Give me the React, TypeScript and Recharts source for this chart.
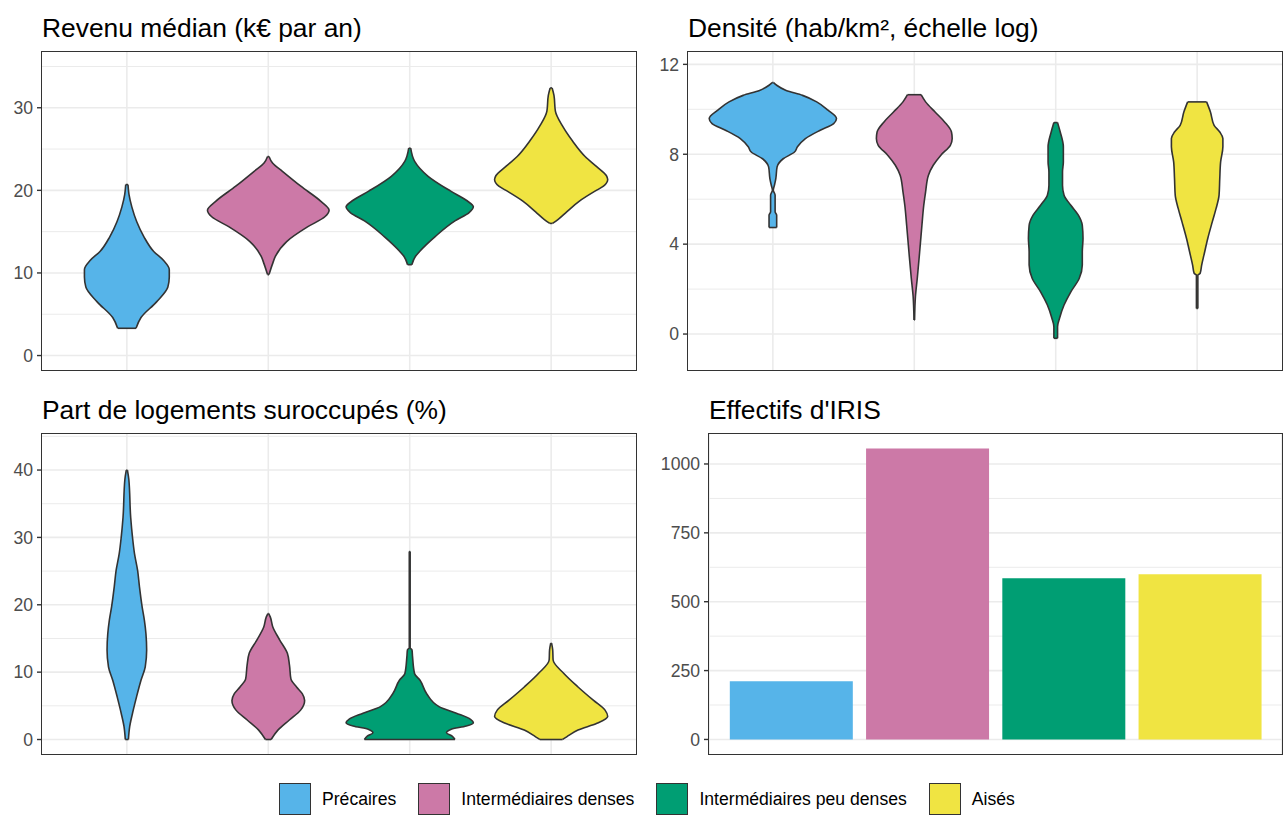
import { ComposedChart, Area, Bar, Cell, XAxis, YAxis, CartesianGrid, ReferenceLine } from "recharts";

const FONT = '"Liberation Sans", Arial, Helvetica, sans-serif';
const GROUPS = ["Précaires", "Intermédiaires denses", "Intermédiaires peu denses", "Aisés"];
const COLORS = ["#56B4E9", "#CC79A7", "#009E73", "#F0E442"];
const OUTLINE = "#333333";
const GRID = "#EBEBEB";

// profils des violons : [valeur, demi-largeur en unités de catégorie]
type Profile = [number, number][];

const REVENU_PRECAIRES: Profile = [
  [3.3, 0.065], [4.6, 0.1], [6.5, 0.21], [8.3, 0.29], [9.5, 0.3], [10.4, 0.3], [11.5, 0.26],
  [12.6, 0.19], [14.4, 0.12], [16.2, 0.07], [18.0, 0.035], [19.5, 0.015], [20.7, 0.008],
];
const REVENU_DENSES: Profile = [
  [9.8, 0.005], [11.1, 0.03], [12.0, 0.05], [13.8, 0.13], [15.6, 0.28], [16.8, 0.4], [17.6, 0.43],
  [18.7, 0.37], [20.5, 0.23], [22.3, 0.1], [23.3, 0.03], [24.1, 0.005],
];
const REVENU_PEU_DENSES: Profile = [
  [11.0, 0.015], [12.0, 0.04], [12.6, 0.07], [14.4, 0.18], [16.3, 0.32], [17.3, 0.42], [18.0, 0.45],
  [18.8, 0.4], [19.9, 0.29], [21.7, 0.13], [23.5, 0.035], [25.1, 0.007],
];
const REVENU_AISES: Profile = [
  [16.0, 0.01], [16.5, 0.05], [17.4, 0.11], [18.7, 0.2], [19.9, 0.31], [20.5, 0.37], [21.3, 0.4],
  [21.8, 0.39], [22.9, 0.32], [24.1, 0.24], [26.0, 0.15], [27.8, 0.08], [29.6, 0.03], [31.5, 0.02],
  [32.4, 0.007],
];

const DENSITE_PRECAIRES: Profile = [
  [4.74, 0.027], [5.29, 0.027], [5.44, 0.016], [6.18, 0.016], [6.4, 0.003], [6.62, 0.011],
  [6.92, 0.021], [7.44, 0.03], [7.8, 0.073], [8.1, 0.153], [8.33, 0.174], [8.7, 0.23], [9.07, 0.335],
  [9.36, 0.43], [9.59, 0.45], [9.96, 0.39], [10.33, 0.31], [10.62, 0.21], [10.84, 0.094],
  [11.07, 0.027], [11.19, 0.005],
];
const DENSITE_DENSES: Profile = [
  [0.62, 0.002], [1.66, 0.008], [2.47, 0.021], [3.66, 0.038], [4.84, 0.054], [5.73, 0.067],
  [6.33, 0.08], [7.07, 0.1], [7.51, 0.134], [7.96, 0.188], [8.4, 0.255], [8.7, 0.268], [8.99, 0.263],
  [9.44, 0.214], [9.88, 0.147], [10.33, 0.08], [10.65, 0.048],
];
const DENSITE_PEU_DENSES: Profile = [
  [-0.19, 0.013], [0.33, 0.013], [0.7, 0.027], [1.29, 0.059], [1.88, 0.107], [2.47, 0.166],
  [3.07, 0.188], [3.66, 0.188], [4.25, 0.193], [4.84, 0.188], [5.29, 0.16], [5.73, 0.107],
  [6.18, 0.059], [6.62, 0.048], [7.21, 0.048], [7.66, 0.054], [8.33, 0.054], [8.99, 0.032],
  [9.41, 0.013],
];
const DENSITE_AISES: Profile = [
  [1.14, 0.005], [2.62, 0.005], [2.7, 0.021], [3.07, 0.032], [3.51, 0.048], [4.25, 0.075],
  [4.99, 0.107], [5.59, 0.134], [6.18, 0.155], [6.92, 0.16], [7.66, 0.166], [8.33, 0.182],
  [8.7, 0.182], [8.99, 0.16], [9.29, 0.12], [9.88, 0.094], [10.33, 0.067],
];

const SUROCC_PRECAIRES: Profile = [
  [0, 0.011], [1.9, 0.02], [3.9, 0.04], [6.3, 0.068], [8.8, 0.1], [10.8, 0.13], [13.3, 0.14],
  [15.7, 0.135], [17.7, 0.124], [19.7, 0.108], [22.7, 0.089], [25.1, 0.076], [27.6, 0.054],
  [30, 0.04], [33, 0.027], [38.6, 0.014], [40, 0.004],
];
const SUROCC_DENSES: Profile = [
  [0, 0.02], [1.4, 0.068], [2.9, 0.149], [4.4, 0.23], [5.8, 0.257], [6.8, 0.24], [7.8, 0.2],
  [9, 0.16], [11, 0.15], [12.8, 0.135], [14.8, 0.08], [16.7, 0.032], [18.2, 0.014], [18.7, 0.003],
];
const SUROCC_PEU_DENSES: Profile = [
  [0, 0.32], [0.5, 0.3], [1.0, 0.26], [1.5, 0.29], [2.0, 0.4], [2.5, 0.45], [3.0, 0.43],
  [3.9, 0.33], [4.85, 0.21], [6.8, 0.12], [8.8, 0.073], [9.8, 0.034], [12.3, 0.02], [13.3, 0.016],
  [13.6, 0.003], [27.9, 0.003],
];
const SUROCC_AISES: Profile = [
  [0, 0.08], [0.4, 0.11], [1.4, 0.19], [2.4, 0.324], [3.4, 0.4], [4.4, 0.38], [5.8, 0.3],
  [7.8, 0.19], [9.8, 0.09], [11.8, 0.014], [13.3, 0.011], [14.3, 0.003],
];

const REVENU_TICKS = [0, 10, 20, 30];
const REVENU_MINOR = [5, 15, 25, 35];
const DENSITE_TICKS = [0, 4, 8, 12];
const DENSITE_MINOR = [2, 6, 10];
const SUROCC_TICKS = [0, 10, 20, 30, 40];
const SUROCC_MINOR = [5, 15, 25, 35, 45];

const EFFECTIFS = [211, 1056, 585, 600];
const EFFECTIFS_TICKS = [0, 250, 500, 750, 1000];
const EFFECTIFS_MINOR = [125, 375, 625, 875];

const tickStyle = { fill: "#4D4D4D", fontSize: 17.6, fontFamily: FONT };
const VIOLIN_STROKE = 1.6;

type Box = { left: number; top: number; width: number; height: number };

function Title({ text, left, top }: { text: string; left: number; top: number }) {
  return (
    <div
      style={{
        position: "absolute",
        left,
        top: top - 37.3,
        fontSize: 26.4,
        lineHeight: "26.4px",
        color: "#000",
        whiteSpace: "nowrap",
      }}
    >
      {text}
    </div>
  );
}

function Border({ box }: { box: Box }) {
  return (
    <div
      style={{
        position: "absolute",
        left: box.left - 0.8,
        top: box.top - 0.8,
        width: box.width + 1.6,
        height: box.height + 1.6,
        border: `1.6px solid ${OUTLINE}`,
        boxSizing: "border-box",
        pointerEvents: "none",
      }}
    />
  );
}

function ViolinPanel(props: {
  title: string;
  box: Box;
  axisWidth: number;
  domain: [number, number];
  ticks: number[];
  minor: number[];
  profiles: Profile[];
}) {
  const { title, box, axisWidth, domain, ticks, minor, profiles } = props;
  const series = profiles.map((p, i) =>
    p.map(([y, w]) => ({ y, span: [i + 1 - w, i + 1 + w] }))
  );
  // bords plats (haut et bas) de chaque violon
  const caps = profiles.flatMap((p, i) =>
    [p[0], p[p.length - 1]].map(([y, w]) => ({ key: `${i}-${y}`, y, x0: i + 1 - w, x1: i + 1 + w }))
  );
  return (
    <>
      <Title text={title} left={box.left} top={box.top} />
      <div style={{ position: "absolute", left: box.left - axisWidth, top: box.top }}>
        <ComposedChart
          width={box.width + axisWidth}
          height={box.height}
          layout="vertical"
          margin={{ top: 0, right: 0, bottom: 0, left: 0 }}
        >
          <CartesianGrid horizontalValues={minor} vertical={false} stroke={GRID} strokeWidth={1} />
          <CartesianGrid horizontalValues={ticks} verticalValues={[1, 2, 3, 4]} stroke={GRID} strokeWidth={1.6} />
          <XAxis type="number" domain={[0.4, 4.6]} hide allowDataOverflow />
          <YAxis
            type="number"
            dataKey="y"
            domain={domain}
            ticks={ticks}
            interval={0}
            reversed
            allowDataOverflow
            width={axisWidth}
            axisLine={false}
            tickSize={5}
            tickMargin={4}
            tickLine={{ stroke: OUTLINE, strokeWidth: 1.4 }}
            tick={tickStyle}
          />
          {series.map((rows, i) => (
            <Area
              key={GROUPS[i]}
              data={rows}
              dataKey="span"
              type="monotone"
              fill={COLORS[i]}
              fillOpacity={1}
              stroke={OUTLINE}
              strokeWidth={VIOLIN_STROKE}
              isAnimationActive={false}
            />
          ))}
          {caps.map((c) => (
            <ReferenceLine
              key={c.key}
              segment={[{ x: c.x0, y: c.y }, { x: c.x1, y: c.y }]}
              stroke={OUTLINE}
              strokeWidth={VIOLIN_STROKE}
            />
          ))}
        </ComposedChart>
      </div>
      <Border box={box} />
    </>
  );
}

function BarPanel({ box, axisWidth }: { box: Box; axisWidth: number }) {
  const rows = GROUPS.map((g, i) => ({ groupe: g, n: EFFECTIFS[i] }));
  const max = Math.max(...EFFECTIFS);
  return (
    <>
      <Title text="Effectifs d'IRIS" left={box.left} top={box.top} />
      <div style={{ position: "absolute", left: box.left - axisWidth, top: box.top }}>
        <ComposedChart
          width={box.width + axisWidth}
          height={box.height}
          data={rows}
          barCategoryGap="5%"
          margin={{ top: 0, right: 0, bottom: 0, left: 0 }}
        >
          <CartesianGrid horizontalValues={EFFECTIFS_MINOR} vertical={false} stroke={GRID} strokeWidth={1} />
          <CartesianGrid horizontalValues={EFFECTIFS_TICKS} stroke={GRID} strokeWidth={1.6} />
          <XAxis
            dataKey="groupe"
            type="category"
            tick={false}
            tickLine={false}
            axisLine={false}
            height={0}
            padding={{ left: 14, right: 14 }}
          />
          <YAxis
            type="number"
            domain={[-max * 0.05, max * 1.05]}
            ticks={EFFECTIFS_TICKS}
            interval={0}
            allowDataOverflow
            width={axisWidth}
            axisLine={false}
            tickSize={5}
            tickMargin={4}
            tickLine={{ stroke: OUTLINE, strokeWidth: 1.4 }}
            tick={tickStyle}
          />
          <Bar dataKey="n" isAnimationActive={false}>
            {rows.map((r, i) => (
              <Cell key={r.groupe} fill={COLORS[i]} />
            ))}
          </Bar>
        </ComposedChart>
      </div>
      <Border box={box} />
    </>
  );
}

export default function App() {
  return (
    <div
      style={{
        position: "absolute",
        left: 0,
        top: 0,
        width: 1288,
        height: 815,
        background: "#fff",
        fontFamily: FONT,
        overflow: "hidden",
      }}
    >
      <ViolinPanel
        title="Revenu médian (k€ par an)"
        box={{ left: 42, top: 52, width: 594, height: 318 }}
        axisWidth={42}
        domain={[-1.75, 36.75]}
        ticks={REVENU_TICKS}
        minor={REVENU_MINOR}
        profiles={[REVENU_PRECAIRES, REVENU_DENSES, REVENU_PEU_DENSES, REVENU_AISES]}
      />
      <ViolinPanel
        title="Densité (hab/km², échelle log)"
        box={{ left: 688, top: 52, width: 594, height: 318 }}
        axisWidth={40}
        domain={[-1.6, 12.55]}
        ticks={DENSITE_TICKS}
        minor={DENSITE_MINOR}
        profiles={[DENSITE_PRECAIRES, DENSITE_DENSES, DENSITE_PEU_DENSES, DENSITE_AISES]}
      />
      <ViolinPanel
        title="Part de logements suroccupés (%)"
        box={{ left: 42, top: 434, width: 594, height: 320 }}
        axisWidth={42}
        domain={[-2.15, 45.35]}
        ticks={SUROCC_TICKS}
        minor={SUROCC_MINOR}
        profiles={[SUROCC_PRECAIRES, SUROCC_DENSES, SUROCC_PEU_DENSES, SUROCC_AISES]}
      />
      <BarPanel box={{ left: 709, top: 434, width: 573, height: 320 }} axisWidth={50} />

      <div
        style={{
          position: "absolute",
          left: 279,
          top: 783,
          height: 32,
          display: "flex",
          alignItems: "center",
          fontSize: 17.6,
          color: "#000",
          whiteSpace: "nowrap",
        }}
      >
        {GROUPS.map((g, i) => (
          <div key={g} style={{ display: "flex", alignItems: "center", marginRight: 22 }}>
            <div
              style={{
                width: 32,
                height: 32,
                boxSizing: "border-box",
                background: COLORS[i],
                border: `1.6px solid ${OUTLINE}`,
              }}
            />
            <span style={{ marginLeft: 11 }}>{g}</span>
          </div>
        ))}
      </div>
    </div>
  );
}
